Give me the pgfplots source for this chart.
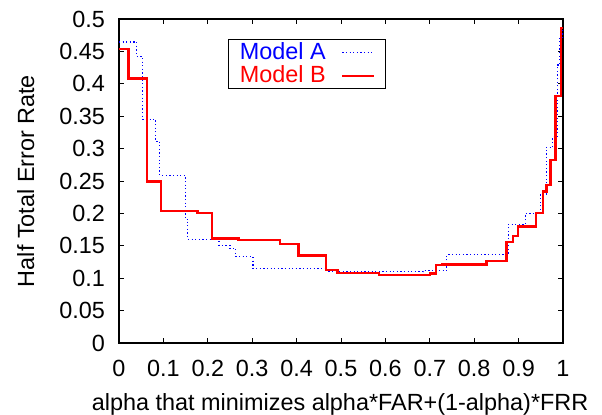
\documentclass[border=0pt]{standalone}
\usepackage{fontspec}
\setmainfont{Liberation Sans}
\usepackage{pgfplots}
\pgfplotsset{compat=1.18}

% Half total error rate of two models as a function of the cost weight alpha
\pgfplotstableread{
x y
0.000 0.4645
0.040 0.442
0.053 0.345
0.083 0.311
0.092 0.259
0.149 0.191
0.155 0.160
0.225 0.151
0.250 0.146
0.263 0.133
0.302 0.115
0.468 0.110
0.685 0.1115
0.738 0.136
0.877 0.183
0.915 0.200
0.949 0.230
0.962 0.302
0.977 0.318
0.987 0.429
0.993 0.470
1.000 0.486
}\modelA

\pgfplotstableread{
x y
0.000 0.454
0.021 0.408
0.063 0.249
0.094 0.204
0.177 0.201
0.209 0.161
0.269 0.159
0.363 0.153
0.404 0.135
0.466 0.113
0.492 0.108
0.586 0.1045
0.700 0.1075
0.714 0.120
0.727 0.121
0.828 0.1265
0.873 0.156
0.887 0.165
0.899 0.180
0.939 0.201
0.955 0.2335
0.963 0.244
0.972 0.282
0.983 0.381
0.995 0.486
1.000 0.486
}\modelB

\begin{document}
\fontsize{23.5}{27}\selectfont
\begin{tikzpicture}
\begin{axis}[
  scale only axis,
  width=444bp, height=324bp,
  xmin=0, xmax=1, ymin=0, ymax=0.5,
  xtick={0,0.1,...,1.01},
  ytick={0,0.05,...,0.51},
  xticklabels={0,0.1,0.2,0.3,0.4,0.5,0.6,0.7,0.8,0.9,1},
  yticklabels={0,0.05,0.1,0.15,0.2,0.25,0.3,0.35,0.4,0.45,0.5},
  tick align=inside,
  tick pos=both,
  major tick length=5bp,
  every tick/.style={black, line width=0.9bp},
  axis line style={black, line width=1.2bp},
  /pgf/number format/assume math mode=true,
  xticklabel style={yshift=-9bp},
  yticklabel style={xshift=-6bp},
  xlabel={alpha that minimizes alpha*FAR+(1-alpha)*FRR},
  ylabel={Half Total Error Rate},
  xlabel style={at={(axis description cs:0.498,-0.19)}, anchor=center},
  ylabel style={at={(axis description cs:-0.21,0.5)}, anchor=center},
  legend plot pos=right,
  legend cell align=right,
  legend style={at={(rel axis cs:0.245,0.938)}, anchor=north west,
    draw=black, line width=1bp, inner xsep=10bp, inner ysep=1bp,
    nodes={inner sep=1.5bp}, column sep=14bp, row sep=0bp},
  legend image code/.code={\draw[#1] (0bp,0bp) -- (32bp,0bp);},
]
\addplot[const plot, blue, line width=1.2bp, dash pattern=on 1.2bp off 2.4bp]
  table[x=x, y=y] {\modelA};
\addlegendentry{\textcolor{blue}{Model A}}
\addplot[const plot, red, line width=2.4bp]
  table[x=x, y=y] {\modelB};
\addlegendentry{\textcolor{red}{Model B}}
\end{axis}
\pgfresetboundingbox
\path[use as bounding box]
  ([xshift=-119bp,yshift=-72bp]current axis.south west)
  rectangle ([xshift=483bp,yshift=343bp]current axis.south west);
\end{tikzpicture}
\end{document}
